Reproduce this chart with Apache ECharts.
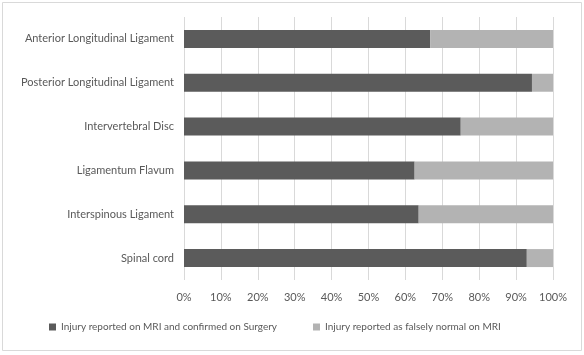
<!DOCTYPE html>
<html><head><meta charset="utf-8">
<script src="https://cdn.jsdelivr.net/npm/echarts@6/dist/echarts.min.js"></script>
<style>html,body{margin:0;padding:0;background:#fff}#c{width:584px;height:355px}</style>
</head><body><div id="c"></div>
<script>
const categories = ["Spinal cord","Interspinous Ligament","Ligamentum Flavum","Intervertebral Disc","Posterior Longitudinal Ligament","Anterior Longitudinal Ligament"];
const confirmedValues = [92.9, 63.6, 62.5, 75.0, 94.3, 66.7];
const falselyNormalValues = [7.1, 36.4, 37.5, 25.0, 5.7, 33.3];
const seriesNames = ["Injury reported on MRI and confirmed on Surgery","Injury reported as falsely normal on MRI"];
const xTicks = [0,10,20,30,40,50,60,70,80,90,100];

const font = "Lato";
const chart = echarts.init(document.getElementById('c'), null, {renderer:'canvas'});
chart.setOption({
  animation:false,
  backgroundColor:'#fff',
  textStyle:{fontFamily:font},
  graphic:[{type:'rect',shape:{x:2.5,y:2.5,width:579,height:348},style:{fill:'none',stroke:'#d9d9d9',lineWidth:1},silent:true}],
  grid:{left:184,right:31,top:17,bottom:75,containLabel:false},
  legend:{bottom:18,left:44,itemWidth:7,itemHeight:7,itemGap:36,icon:'rect',
    textStyle:{color:'#595959',fontSize:10,fontFamily:font},data:seriesNames},
  xAxis:{type:'value',min:0,max:100,interval:10,
    axisLabel:{formatter:v=>v+'%',color:'#595959',fontSize:11,margin:12,fontFamily:font},
    splitLine:{show:true,lineStyle:{color:'#d9d9d9',width:1}},
    axisLine:{show:false},axisTick:{show:false}},
  yAxis:{type:'category',data:categories,
    axisLabel:{color:'#595959',fontSize:11,margin:10,fontFamily:font},
    axisLine:{show:false},axisTick:{show:false}},
  series:[
    {name:seriesNames[0],type:'bar',stack:'a',data:confirmedValues,barCategoryGap:'59%',itemStyle:{color:'#5b5b5b'}},
    {name:seriesNames[1],type:'bar',stack:'a',data:falselyNormalValues,barCategoryGap:'59%',itemStyle:{color:'#b3b3b3'}}
  ]
});
</script></body></html>
